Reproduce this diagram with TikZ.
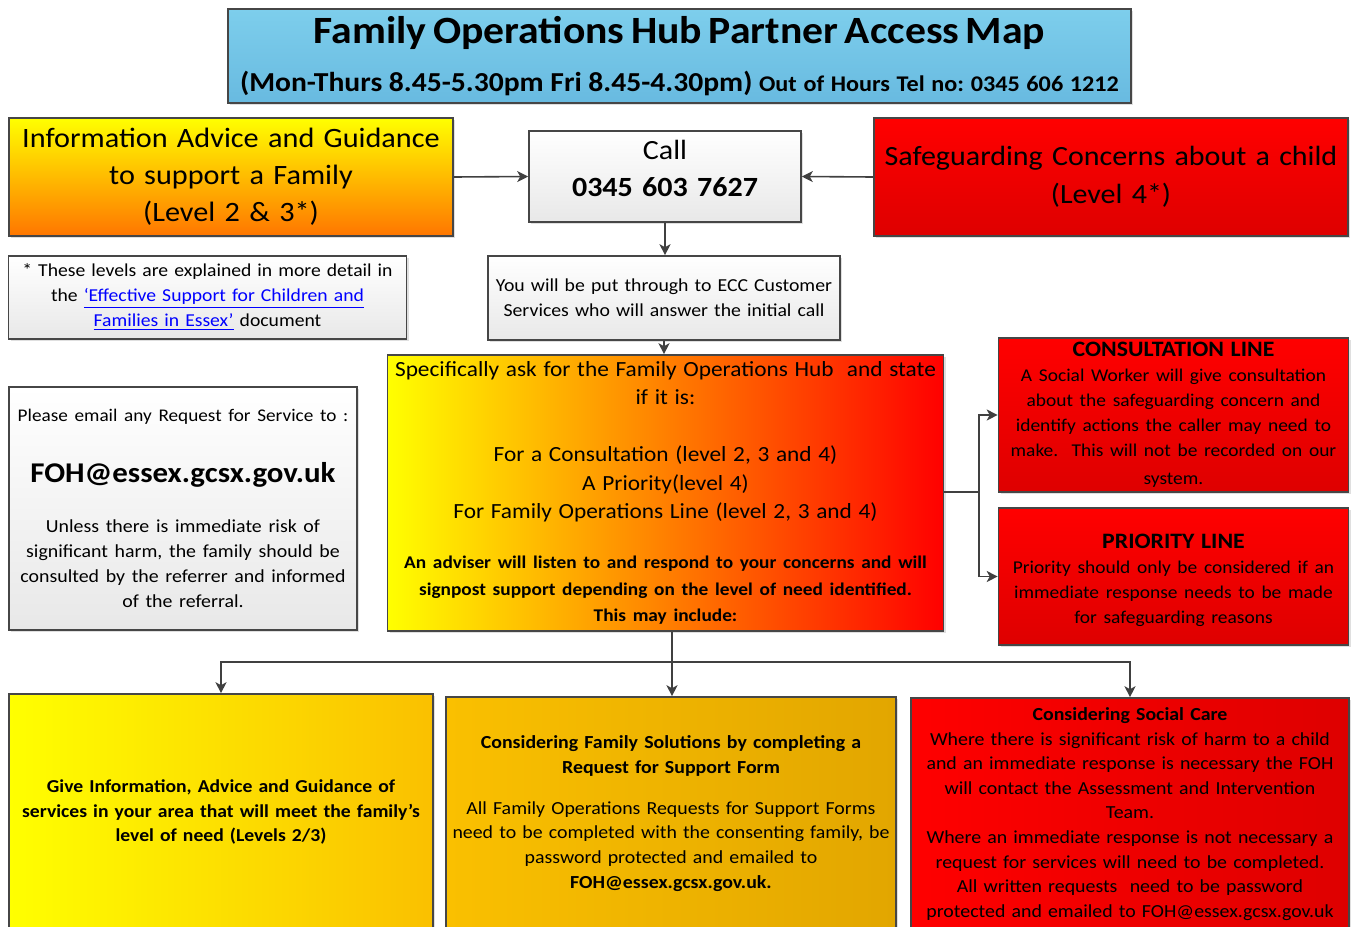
\documentclass[tikz,border=0pt]{standalone}
\usepackage{fontspec}
\setmainfont{Carlito}[FakeStretch=1.08]
\frenchspacing
\usetikzlibrary{shadows,arrows.meta}
\definecolor{boxline}{RGB}{70,70,70}
\definecolor{linkgrey}{RGB}{64,64,64}
\definecolor{boxgrey}{RGB}{232,232,232}
\definecolor{titletop}{RGB}{125,206,236}
\definecolor{titlebot}{RGB}{104,186,224}
\definecolor{hubyellow}{RGB}{255,255,0}
\definecolor{huborange}{RGB}{255,140,0}
\definecolor{iagorange}{RGB}{255,118,0}
\definecolor{redtop}{RGB}{255,0,0}
\definecolor{redbot}{RGB}{222,0,0}
\definecolor{amber}{RGB}{250,192,0}
\definecolor{darkamber}{RGB}{226,166,0}
\definecolor{linkblue}{RGB}{0,0,255}
\newcommand\fsz[2]{\fontsize{#1}{#2}\selectfont}
\newcommand\lnk[1]{\textcolor{linkblue}{\underline{#1}}}
\begin{document}
\begin{tikzpicture}[x=0.5pt,y=-0.5pt,
  box/.style={draw=boxline, line width=0.8pt, align=center, inner sep=2pt, text=black,
    drop shadow={shadow xshift=1.2pt, shadow yshift=-1.2pt, opacity=0.25}},
  greybox/.style={box, top color=white, bottom color=boxgrey},
  redbox/.style={box, top color=redtop, bottom color=redbot},
  link/.style={draw=linkgrey, line width=0.8pt, -{Stealth[length=5.5pt,width=5.5pt,inset=1.5pt]}},
  line/.style={draw=linkgrey, line width=0.8pt}]
\useasboundingbox (0,0) rectangle (1357,927);

% top row
\node[box, top color=titletop, bottom color=titlebot, minimum width=451.5pt, minimum height=47pt, text width=447pt] (title) at (679.5,56)
  {{\fsz{19.3}{22}\bfseries Family Operations Hub Partner Access Map\par}\vspace{8.3pt}
   {\bfseries\fsz{13.7}{16}(Mon-Thurs 8.45-5.30pm Fri 8.45-4.30pm) {\fsz{11.2}{16}Out of Hours Tel no: 0345 606 1212}\par}};
\node[box, top color=hubyellow, bottom color=iagorange, minimum width=222pt, minimum height=59pt, text width=218pt, font=\fsz{14}{18.5}] (iag) at (231,177)
  {Information Advice and Guidance\\ to support a Family\\ (Level 2 \& 3*)};
\node[greybox, minimum width=136pt, minimum height=45.5pt, text width=132pt, font=\fsz{13.9}{18.5}] (call) at (665,176.5)
  {Call\\ {\bfseries 0345 603 7627}\par\vspace{8pt}};
\node[redbox, minimum width=237pt, minimum height=59pt, text width=233pt, font=\fsz{13.9}{19}] (safe) at (1111,177)
  {Safeguarding Concerns about a child\\ (Level 4*)};

% second row
\node[greybox, minimum width=198.5pt, minimum height=41.5pt, text width=195pt, font=\fsz{9.1}{12.5}] (note) at (207.5,297.5)
  {* These levels are explained in more detail in\\ the \lnk{‘Effective Support for Children and}\\ \lnk{Families in Essex’} document};
\node[greybox, minimum width=176pt, minimum height=42pt, text width=172pt, font=\fsz{9.15}{12.5}] (ecc) at (664,298)
  {You will be put through to ECC Customer\\ Services who will answer the initial call};

% hub
\node[box, left color=hubyellow, middle color=huborange, right color=redtop, minimum width=277.5pt, minimum height=138pt, text width=274pt] (hub) at (665.5,493)
  {{\fsz{10.8}{14.25}Specifically ask for the Family Operations Hub\ \ and state\\ if it is:\\[14.25pt]
    For a Consultation (level 2, 3 and 4)\\ A Priority(level 4)\\ For Family Operations Line (level 2, 3 and 4)\par}\vspace{11.75pt}
   {\bfseries\fsz{8.95}{13.25}An adviser will listen to and respond to your concerns and will\\ signpost support depending on the level of need identified.\\ This may include:\par}};
\node[greybox, minimum width=174pt, minimum height=121.5pt, text width=170pt] (email) at (183,508.5)
  {{\fsz{8.9}{12.5}Please email any Request for Service to :\par}\vspace{14.5pt}
   {\bfseries\fsz{14.3}{16}FOH@essex.gcsx.gov.uk\par}\vspace{12.5pt}
   {\fsz{9.2}{12.5}Unless there is immediate risk of\\ significant harm, the family should be\\ consulted by the referrer and informed\\ of the referral.\par}};
\node[redbox, minimum width=174.5pt, minimum height=77pt, text width=171pt] (consult) at (1173.5,415)
  {{\bfseries\fsz{11}{12.5}CONSULTATION LINE\par}
   {\fsz{9}{12.5}A Social Worker will give consultation\\ about the safeguarding concern and\\ identify actions the caller may need to\\ make.\ \ This will not be recorded on our\\[1.5pt] system.\par}};
\node[redbox, minimum width=174.5pt, minimum height=68.5pt, text width=171pt] (prio) at (1173.5,576.5)
  {{\bfseries\fsz{11}{12.5}PRIORITY LINE\par}
   {\fsz{9}{12.5}Priority should only be considered if an\\ immediate response needs to be made\\ for safeguarding reasons\par}\vspace{-4pt}};

% bottom row
\node[box, left color=hubyellow, right color=amber, minimum width=212pt, minimum height=118pt, text width=208pt, font=\bfseries\fsz{9.1}{12.25}] (give) at (221,812)
  {Give Information, Advice and Guidance of\\ services in your area that will meet the family’s\\ level of need (Levels 2/3)};
\node[box, left color=amber, right color=darkamber, minimum width=224pt, minimum height=116.5pt, text width=221pt, font=\fsz{9.2}{12.4}] (solutions) at (671,813.5)
  {{\bfseries Considering Family Solutions by completing a\\ Request for Support Form\par}\vspace{8pt}
   All Family Operations Requests for Support Forms\\ need to be completed with the consenting family, be\\ password protected and emailed to\\ {\bfseries FOH@essex.gcsx.gov.uk.}};
\node[box, left color=redtop, right color=redbot, minimum width=218pt, minimum height=116pt, text width=215pt, font=\fsz{9.2}{12.3}] (social) at (1130,814)
  {{\bfseries Considering Social Care}\\ Where there is significant risk of harm to a child\\ and an immediate response is necessary the FOH\\ will contact the Assessment and Intervention\\ Team.\\ Where an immediate response is not necessary a\\ request for services will need to be completed.\\ All written requests\ \ need to be password\\ protected and emailed to FOH@essex.gcsx.gov.uk};

% connectors
\draw[link] (iag.east) -- (call.west);
\draw[link] (safe.west) -- (call.east);
\draw[link] (call.south) -- (call.south |- ecc.north);
\draw[link] (ecc.south) -- (ecc.south |- hub.north);
\coordinate (split) at (979,492);
\draw[line] (hub.east |- split) -- (split);
\draw[link] (split) |- (consult.west);
\draw[link] (split) |- (prio.west);
\coordinate (fork) at (672,662);
\draw[line] (fork |- hub.south) -- (fork);
\draw[link] (fork) -| (give.north);
\draw[link] (fork) -- (fork |- solutions.north);
\draw[link] (fork) -| (social.north);
\end{tikzpicture}
\end{document}
